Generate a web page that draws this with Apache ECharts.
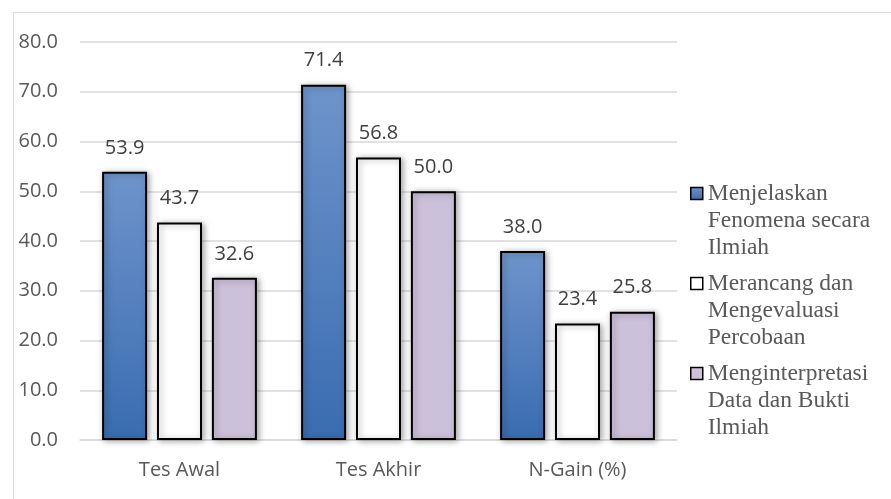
<!DOCTYPE html>
<html>
<head>
<meta charset="utf-8">
<script src="https://cdn.jsdelivr.net/npm/echarts@6/dist/echarts.min.js"></script>
<style>
html,body{margin:0;padding:0;background:#fff;}
#chart{width:891px;height:499px;}
</style>
</head>
<body>
<div id="chart"></div>
<script>
var categories = ['Tes Awal', 'Tes Akhir', 'N-Gain (%)'];
var seriesNames = ['Menjelaskan Fenomena secara Ilmiah', 'Merancang dan Mengevaluasi Percobaan', 'Menginterpretasi Data dan Bukti Ilmiah'];
var legendLines = [
  ['Menjelaskan', 'Fenomena secara', 'Ilmiah'],
  ['Merancang dan', 'Mengevaluasi', 'Percobaan'],
  ['Menginterpretasi', 'Data dan Bukti', 'Ilmiah']
];
var menjelaskan = [53.9, 71.4, 38.0];
var merancang = [43.7, 56.8, 23.4];
var menginterpretasi = [32.6, 50.0, 25.8];
var yTicks = [0, 80, 10];

var chart = echarts.init(document.getElementById('chart'));
var font = 'Open Sans';
var fills = [
  new echarts.graphic.LinearGradient(0, 0, 0, 1, [
    {offset: 0, color: '#6e94cb'},
    {offset: 1, color: '#3a6cb1'}
  ]),
  '#ffffff',
  '#ccc1da'
];
var dataSets = [menjelaskan, merancang, menginterpretasi];

var series = seriesNames.map(function (name, i) {
  return {
    name: name,
    type: 'bar',
    data: dataSets[i],
    barWidth: 45,
    barGap: '22%',
    itemStyle: {
      color: fills[i],
      borderColor: '#000000',
      borderWidth: 2,
      shadowBlur: 6,
      shadowColor: 'rgba(0,0,0,0.35)',
      shadowOffsetX: 2,
      shadowOffsetY: 1
    },
    label: {
      show: true,
      position: 'top',
      distance: 14,
      formatter: function (p) { return p.value.toFixed(1); },
      fontFamily: font,
      fontSize: 20,
      color: '#404040'
    },
    emphasis: {disabled: true}
  };
});

chart.setOption({
  animation: false,
  backgroundColor: '#ffffff',
  graphic: [{
    type: 'rect',
    left: 11,
    top: 10,
    shape: {width: 900, height: 520},
    style: {fill: 'none', stroke: '#d9d9d9', lineWidth: 1},
    silent: true
  }],
  grid: {left: 80, right: 214, top: 42, bottom: 59, containLabel: false},
  legend: {
    orient: 'vertical',
    left: 690,
    top: 126,
    padding: 0,
    itemWidth: 12,
    itemHeight: 12,
    itemGap: -45,
    icon: 'rect',
    selectedMode: false,
    data: seriesNames,
    formatter: function (name) {
      // two leading blank lines so the icon lines up with the first text line
      return '\n\n' + legendLines[seriesNames.indexOf(name)].join('\n');
    },
    itemStyle: {borderColor: '#000000', borderWidth: 1.5, shadowBlur: 0, shadowOffsetX: 0, shadowOffsetY: 0},
    textStyle: {
      fontFamily: 'Liberation Serif',
      fontSize: 23.5,
      lineHeight: 27,
      color: '#595959'
    }
  },
  xAxis: {
    type: 'category',
    data: categories,
    axisLine: {lineStyle: {color: '#d9d9d9', width: 1.5}},
    axisTick: {show: false},
    axisLabel: {fontFamily: font, fontSize: 20, color: '#595959', margin: 20}
  },
  yAxis: {
    type: 'value',
    min: yTicks[0],
    max: yTicks[1],
    interval: yTicks[2],
    axisLine: {show: false},
    axisTick: {show: false},
    axisLabel: {
      fontFamily: font, fontSize: 20, color: '#595959', margin: 22,
      formatter: function (v) { return v.toFixed(1); }
    },
    splitLine: {lineStyle: {color: '#d9d9d9', width: 1.5}}
  },
  series: series
});
</script>
</body>
</html>
